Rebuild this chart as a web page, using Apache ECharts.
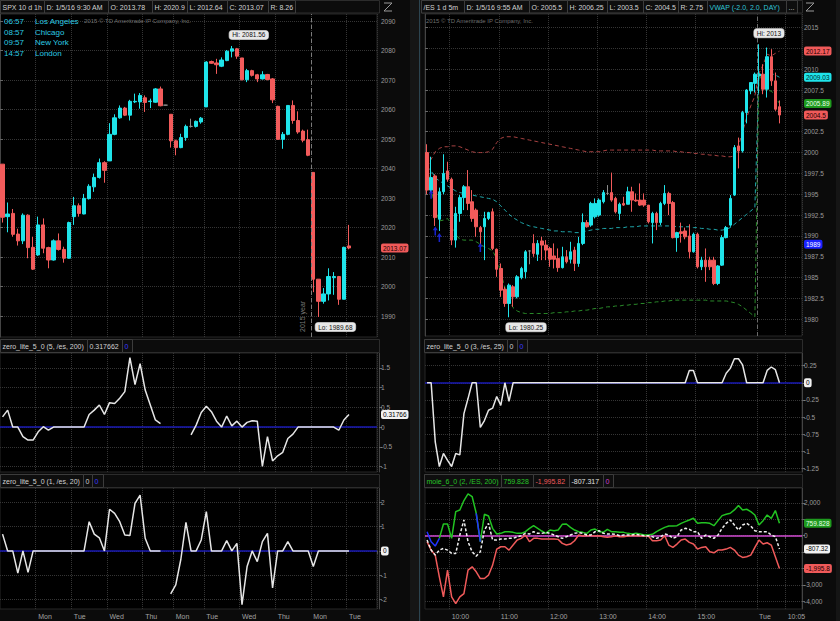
<!DOCTYPE html>
<html><head><meta charset="utf-8">
<script src="https://cdn.jsdelivr.net/npm/echarts@6.0.0/dist/echarts.min.js"></script>
<style>html,body{margin:0;padding:0;background:#0b0b0b;}#c{width:840px;height:621px;}</style>
</head><body><div id="c"></div>
<script>
// ---------------- DATA ----------------
// SPX 10 d 1h
const SPX_SLOTS = 74;
const spxDayStart = [7,14,21,28,34,40,47,54,61,68];
const spxDayName = ['Mon','Tue','Wed','Thu','Mon','Tue','Wed','Thu','Mon','Tue'];
const spxOpen  = [2041.5,2023.7,2024.8,2017.8,2015.5,2024.2,2013.3,2010.7,2020.9,2013.2,2009.0,2015.5,2012.6,2009.6,2023.7,2027.4,2024.6,2029.8,2033.8,2037.0,2042.0,2042.6,2051.6,2057.2,2060.5,2058.1,2062.6,2062.6,2064.0,2062.7,2062.5,2067.0,2061.5,2058.4,2049.4,2047.1,2050.5,2054.3,2054.3,2055.8,2060.9,2076.3,2075.8,2074.7,2076.6,2079.8,2080.6,2077.5,2070.1,2073.2,2071.8,2070.4,2071.9,2070.4,2061.1,2049.9,2051.6,2061.4,2056.3,2052.7,2049.8,2038.7,2002.5,1995.0,1997.5,2003.0,2003.4,1995.7,2013.78];
const spxHigh  = [2041.5,2028.5,2026.3,2019.6,2024.8,2024.5,2016.9,2023.7,2023.1,2013.5,2016.0,2018.0,2013.5,2022.0,2030.4,2028.2,2031.4,2034.7,2038.3,2043.4,2042.5,2055.4,2058.4,2061.4,2060.9,2063.3,2065.4,2065.6,2064.8,2063.7,2067.3,2067.8,2061.6,2058.4,2049.8,2051.8,2054.9,2056.9,2056.3,2057.5,2076.4,2076.6,2077.2,2077.7,2080.2,2081.56,2080.9,2077.5,2073.8,2073.5,2072.1,2073.0,2072.1,2070.7,2061.3,2052.4,2061.4,2063.1,2059.4,2053.2,2053.2,2038.7,2002.5,1999.5,2006.2,2004.9,2003.6,2013.5,2020.9];
const spxLow   = [2021.7,2018.4,2016.9,2013.9,2014.4,2009.6,2005.6,2010.4,2011.3,2006.2,2008.8,2012.2,2008.1,2009.5,2020.9,2023.7,2024.5,2029.5,2032.1,2036.6,2035.2,2042.6,2051.3,2056.9,2057.8,2056.3,2062.2,2060.3,2059.2,2060.5,2062.3,2061.1,2061.4,2047.1,2044.5,2046.9,2049.4,2053.9,2053.9,2055.2,2060.9,2075.5,2072.1,2074.4,2076.4,2077.7,2077.2,2069.9,2069.3,2071.2,2069.3,2070.2,2069.9,2062.2,2049.8,2046.7,2051.3,2055.2,2051.8,2048.9,2044.2,1998.1,1989.68,1994.2,1995.3,1997.2,1993.8,1995.7,2012.64];
const spxClose = [2023.5,2024.6,2017.7,2015.5,2024.2,2013.2,2005.9,2020.9,2013.0,2009.0,2015.5,2012.6,2009.6,2021.7,2027.4,2024.8,2029.9,2034.0,2037.0,2042.0,2039.4,2051.6,2057.2,2060.5,2058.1,2062.8,2062.8,2064.8,2062.4,2062.9,2067.0,2061.3,2061.5,2049.4,2047.1,2050.5,2054.3,2054.3,2056.0,2057.1,2076.1,2075.7,2075.2,2076.8,2079.8,2080.6,2078.1,2070.1,2073.2,2071.6,2070.4,2071.8,2070.2,2063.3,2049.9,2051.6,2061.4,2056.3,2052.4,2049.6,2044.5,2002.5,1995.0,1997.5,2003.4,2003.4,1995.7,2013.3,2013.07];
const spxTicks = [1990,2000,2010,2020,2030,2040,2050,2060,2070,2080,2090];
const spxYearLineAt = 61;

// zero_lite_5_0 (5, /es, 200)
const zl5 = [0.26,0.43,0,0,-0.24,-0.33,-0.33,-0.12,0.01,-0.08,0, 0,0,0,0,0,0, 0.32,0.43,0.56,0.32,0.62,0.6,0.73,0.9,1.76,1.08,1.61,0.94,0.56,0.18,0.09, null,null,null,null,null, -0.2,0.05,0.37,0.53,0.39,0.15,0,0.28,0.03,0.15,0,0.12,0.16,0.15,-1.0,-0.24,-0.86,-0.73,-0.64,-0.29,-0.18,0, 0,0,0,0,0,0,0, -0.08,0.18,0.31766];
const zl5Ticks = [-1,-0.5,0,0.5,1,1.5];
// zero_lite_5_0 (1, /es, 20)
const zl1 = [0.69,0,0,-0.91,0,-0.88, 0,0,0,0,0,0,0,0,0,0,0, 1.2,0.69,0.54,0,1.71,1.54,1.2,0.65,0.63,1.95,2.29,0.52,0,0,0, null, -1.76,-1.39,-0.34,1.17,0,0,0.45,1.61,0,0,0,0.42,0,0.31,-2.2,-0.64,0,-0.44,0.38,0.72,-1.52,0,0,0.38,0,0,0,0,-0.64, 0,0,0,0,0,0,0];
const zl1Ticks = [-2,-1,0,1,2];

// /ES 1 d 5m
const ES_SLOTS = 92;
const esTimeStart = [6,18,30,42,54,66,81,88];
const esTimeName = ['10:00','11:00','12:00','13:00','14:00','15:00','Tue','10:05'];
const esDayLineAt = 81;
const esOpen  = [2000.0,1995.5,1997.2,1992.0,1995.3,1997.8,1996.8,1989.5,1992.7,1994.6,1995.9,1994.1,1993.1,1991.0,1991.1,1992.1,1992.9,1988.4,1986.1,1983.6,1981.9,1983.9,1982.7,1985.0,1985.7,1988.2,1989.1,1987.8,1989.4,1988.9,1988.5,1987.6,1987.3,1986.2,1987.5,1987.2,1988.3,1986.7,1989.1,1991.6,1991.3,1992.3,1992.5,1994.1,1995.1,1995.2,1994.5,1992.7,1993.9,1993.8,1995.3,1994.3,1994.3,1994.3,1993.7,1991.6,1992.7,1991.6,1993.9,1995.1,1994.0,1989.8,1990.5,1990.6,1990.0,1988.1,1990.2,1986.3,1987.1,1987.1,1987.1,1984.3,1986.5,1989.8,1991.3,1994.9,2000.8,2000.2,2004.8,2007.4,2008.3,2009.2,2009.4,2007.6,2011.5,2008.6,2005.5];
const esHigh  = [2001.0,1999.5,1997.4,1995.8,1999.8,1998.9,1997.0,1993.5,1994.9,1996.1,1997.9,1995.5,1993.3,1991.2,1992.9,1992.9,1993.3,1988.5,1986.7,1983.9,1984.3,1984.1,1985.3,1986.3,1988.3,1988.3,1990.2,1989.5,1989.9,1989.5,1988.7,1989.1,1988.5,1988.7,1988.3,1989.3,1988.7,1989.9,1992.7,1991.9,1994.1,1994.5,1994.5,1995.5,1996.1,1997.6,1994.7,1994.0,1994.7,1995.9,1995.9,1995.1,1996.3,1995.1,1993.7,1992.9,1992.9,1994.1,1996.1,1995.3,1994.2,1990.5,1991.6,1991.0,1991.4,1990.4,1990.4,1987.5,1988.5,1987.5,1987.5,1986.5,1990.1,1991.2,1994.9,2000.9,2001.8,2005.0,2007.6,2008.4,2009.6,2013.0,2010.6,2012.6,2012.4,2009.6,2006.25];
const esLow   = [1995.0,1995.3,1991.2,1990.6,1995.0,1996.5,1988.9,1988.6,1991.7,1993.1,1993.1,1991.7,1989.9,1989.0,1987.1,1991.9,1988.3,1985.1,1982.7,1981.5,1980.25,1981.5,1982.5,1984.8,1984.9,1986.6,1987.5,1987.0,1987.1,1987.1,1986.3,1986.1,1985.7,1986.1,1986.7,1986.7,1985.8,1986.3,1988.9,1991.0,1991.1,1992.1,1992.3,1993.9,1994.9,1994.1,1992.7,1991.9,1993.6,1993.8,1992.9,1994.1,1993.6,1993.5,1991.5,1989.1,1990.7,1991.3,1993.7,1992.5,1989.7,1988.1,1989.2,1989.6,1987.3,1988.0,1986.1,1985.9,1984.5,1985.9,1984.1,1984.1,1986.4,1989.7,1991.1,1994.8,1998.1,2000.0,2003.5,2007.0,2007.2,2007.1,2007.0,2006.6,2008.0,2005.0,2003.5];
const esClose = [1995.5,1997.0,1992.2,1995.3,1997.5,1996.8,1989.5,1992.7,1994.6,1995.9,1993.9,1992.1,1991.1,1990.5,1992.1,1992.8,1988.5,1986.0,1983.5,1981.9,1984.1,1982.7,1985.1,1986.1,1988.1,1988.2,1987.9,1989.1,1988.9,1988.3,1987.2,1987.2,1986.2,1987.5,1986.9,1988.1,1986.7,1989.1,1991.6,1991.1,1993.9,1993.9,1994.3,1995.2,1995.1,1994.3,1992.9,1993.8,1993.7,1995.3,1994.3,1994.2,1993.7,1993.7,1991.7,1992.7,1991.6,1993.9,1995.1,1993.9,1989.8,1990.4,1990.3,1989.9,1988.1,1990.2,1986.3,1987.1,1986.3,1986.3,1984.3,1986.4,1989.8,1991.0,1994.5,2000.6,2000.2,2004.8,2007.5,2008.4,2009.4,2009.4,2007.6,2011.5,2008.6,2005.2,2004.5];
const vwapUpper = [1998.3,1999.2,2000.1,2000.5,2000.7,2000.7,2000.8,2000.8,2000.7,2000.5,2000.3,2000.1,2000.0,2000.0,2000.0,2000.1,2000.4,2001.2,2001.7,2001.9,2001.9,2001.9,2001.8,2001.7,2001.6,2001.5,2001.4,2001.3,2001.2,2001.1,2001.0,2000.9,2000.8,2000.7,2000.6,2000.5,2000.4,2000.3,2000.2,2000.1,2000.1,2000.1,2000.1,2000.2,2000.3,2000.3,2000.3,2000.3,2000.3,2000.3,2000.3,2000.3,2000.3,2000.3,2000.3,2000.3,2000.2,2000.2,2000.2,2000.2,2000.2,2000.1,2000.1,2000.0,2000.0,1999.9,1999.9,1999.8,1999.8,1999.7,1999.7,1999.6,1999.6,1999.5,1999.5,1999.6,2000.8,2002.5,2004.2,2005.6,2006.8,2009.5,2010.5,2011.8,2011.6,2011.9,2012.17];
const vwapMid   = [1998.3,1997.8,1997.0,1996.6,1996.3,1996.0,1995.7,1995.4,1995.2,1995.1,1995.0,1994.9,1994.8,1994.7,1994.6,1994.5,1994.4,1994.1,1993.6,1993.1,1992.6,1992.2,1991.9,1991.6,1991.4,1991.2,1991.1,1991.0,1990.9,1990.8,1990.7,1990.6,1990.6,1990.5,1990.5,1990.5,1990.4,1990.4,1990.5,1990.6,1990.7,1990.8,1990.8,1990.9,1990.9,1990.9,1991.0,1991.0,1991.0,1991.1,1991.1,1991.1,1991.2,1991.2,1991.2,1991.2,1991.2,1991.2,1991.2,1991.2,1991.2,1991.1,1991.1,1991.1,1991.1,1991.0,1991.0,1990.9,1990.9,1990.8,1990.8,1990.7,1990.7,1990.8,1991.0,1991.4,1991.8,1992.2,1992.6,1993.0,1993.4,2009.5,2009.2,2009.6,2009.5,2009.3,2009.03];
const vwapLower = [1998.3,1995.8,1993.2,1991.8,1991.9,1992.1,1991.3,1990.2,1989.6,1989.5,1989.5,1989.5,1989.3,1989.0,1988.7,1988.5,1988.2,1987.3,1985.6,1983.8,1982.3,1981.4,1981.0,1980.8,1980.7,1980.7,1980.7,1980.7,1980.7,1980.7,1980.7,1980.8,1980.8,1980.8,1980.9,1980.9,1981.0,1981.0,1981.1,1981.1,1981.2,1981.3,1981.3,1981.4,1981.5,1981.5,1981.6,1981.6,1981.7,1981.7,1981.8,1981.8,1981.9,1981.9,1982.0,1982.0,1982.1,1982.1,1982.2,1982.2,1982.3,1982.3,1982.3,1982.3,1982.3,1982.3,1982.3,1982.3,1982.3,1982.2,1982.2,1982.2,1982.2,1982.2,1982.1,1982.0,1981.8,1981.5,1981.1,1980.7,1980.3,2009.5,2007.9,2007.4,2007.4,2006.7,2005.89];
const esArrowIdx = [1,2,3,13];
const esArrowPrice = [1995.0,1990.6,1989.8,1988.6];
const esTicks = [1980,1982.5,1985,1987.5,1990,1992.5,1995,1997.5,2000,2002.5,2005,2007.5,2010,2012.5,2015];
const esTickLabels = [1980,1982.5,1985,1987.5,1990,1992.5,1995,1997.5,2000,2002.5,2007.5,2010,2015];

// zero_lite_5_0 (3, /es, 25)
const zl3 = [0,0,-0.86,-1.22,-1.03,-1.13,-1.22,-1.03,-1.05,-0.45,-0.23,0,0,-0.65,-0.55,-0.4,-0.37,-0.2,-0.33,0,-0.27,0,
 0,0,0,0,0,0,0,0,0,0,0,0,0,0,0,0,0,0,0,0,0,0,0,0,0,0,0,0,0,0,0,0,0,0,0,0,0,0,0,0,0,0,
 0.18,0.18, 0,0,0,0,0,0,0, 0.14,0.21,0.35,0.35,0.26, 0,0,0,0,0, 0.18,0.23,0.19,0];
const zl3Ticks = [-1.25,-1,-0.75,-0.5,-0.25,0,0.25];

// mole_6_0 (2, /ES, 200)
const moleGreen = [null,null,null,-163,714,714,-163,1469,1571,2143,2551,2388,1367,-367,1306,1204,449,102,143,245,245,204,143,143,245,449,612,449,286,143,347,306,347,694,714,510,347,245,204,143,347,408,245,204,388,245,245,204,204,143,102,143,102,41,41,82,245,388,510,592,592,612,755,857,959,1061,755,796,796,755,612,918,1225,1306,1367,1571,1837,1571,1612,1469,1265,653,918,1265,1061,1531,759.828];
const moleBlue  = [245,-367,-633,-163,null,null,null,null,null,null,null,null,1367,-367];
const moleRed   = [-367,-878,-1184,-2510,-3735,-2102,-3735,-4143,-3735,-3531,-2102,-1898,-2204,-2612,-2612,-2408,-1796,-816,-673,-673,-878,-571,-265,-163,41,-367,-163,-163,-204,-204,-204,-204,-224,-469,-571,-510,-306,41,-20,0,0,-20,0,-61,-102,-61,0,-61,-61,-20,0,0,-20,0,-20,-306,-306,-265,0,-571,-714,-510,-265,-204,-408,-510,-816,-714,-673,-980,-1041,-878,-878,-816,-714,-878,-1184,-1327,-1286,-1184,-714,-265,-510,-429,-571,-1286,-1995.82];
const moleWhite = [-265,-878,-1184,-878,-776,-878,-1082,-1082,41,959,-367,-980,-1245,-980,347,755,-265,-265,-204,-204,-163,-163,-61,0,143,102,245,143,143,204,143,41,-61,-163,-61,41,143,184,143,41,41,245,306,143,102,102,82,0,41,41,41,82,41,0,0,-61,-163,-61,102,41,-163,-61,347,449,388,245,245,-163,41,-61,-163,41,449,755,959,653,347,653,755,592,306,245,245,245,41,-61,-807.317];
const moleTicks = [-4000,-3000,-2000,-1000,0,1000,2000];
const moleTickLabels = [-4000,-3000,0,2000];

// ---------------- CHART ----------------
const FONT = '"Liberation Sans", Arial, sans-serif';
const UP = '#1fe4ea', DOWN = '#f25b5b', DOJI = '#8c8c8c';
const GRID_LINE = '#353535';

function candles(o, h, l, c) {
  return o.map((v, i) => {
    const it = { value: [v, c[i], l[i], h[i]] };
    if (v === c[i]) it.itemStyle = { color: DOJI, color0: DOJI, borderColor: DOJI, borderColor0: DOJI, borderColorDoji: DOJI };
    return it;
  });
}
function cats(n) { return Array.from({ length: n }, (_, i) => String(i)); }
function catAxis(grid, n, starts, names, labels) {
  const f = (i) => starts.includes(i);
  return {
    type: 'category', gridIndex: grid, data: cats(n), boundaryGap: true,
    axisLine: { show: false },
    axisTick: { show: labels, interval: f, length: 3, lineStyle: { color: '#555' } },
    axisLabel: { show: labels, interval: f, align: 'left', color: '#a2a2a2', fontSize: 7, margin: 4, fontFamily: FONT,
      formatter: (v) => { const k = starts.indexOf(Number(v)); return k >= 0 ? names[k] : ''; } },
    splitLine: { show: true, interval: f, lineStyle: { color: GRID_LINE, type: 'dotted', width: 1 } }
  };
}
function valAxis(grid, min, max, ticks, labels, fmt, offset) {
  return {
    type: 'value', gridIndex: grid, position: 'right', min, max, offset: offset || 0,
    axisLine: { show: true, lineStyle: { color: '#444' } },
    axisTick: { show: true, customValues: ticks, length: 3, lineStyle: { color: '#666' } },
    axisLabel: { customValues: labels, formatter: fmt, color: '#9c9c9c', fontSize: 6.5, margin: 2, fontFamily: FONT },
    splitLine: { show: true, lineStyle: { color: GRID_LINE, type: 'dotted', width: 1 } }
  };
}
function tagAxis(grid, min, max, tags, offset) {
  const rich = {};
  tags.forEach((t, i) => { rich['t' + i] = { backgroundColor: t.bg, color: t.fg, padding: [1, 2, 1, 2], borderRadius: 2, fontSize: 6.5, fontFamily: FONT }; });
  return {
    type: 'value', gridIndex: grid, position: 'right', min, max, offset: offset || 0,
    axisLine: { show: false }, axisTick: { show: false }, splitLine: { show: false },
    axisLabel: { customValues: tags.map(t => t.v), margin: 2, rich,
      formatter: (v) => { const i = tags.findIndex(t => Math.abs(t.v - v) < 1e-6); return i < 0 ? '' : '{t' + i + '|' + tags[i].text + '}'; } }
  };
}
const str = (v) => String(v);
const comma = (v) => v.toLocaleString('en-US');

const RED_TAG = { bg: '#f05a5a', fg: '#1a0000' };
const WHITE_TAG = { bg: '#f2f2f2', fg: '#000' };
const last = (a) => a[a.length - 1];

const spxHiIdx = spxHigh.indexOf(Math.max(...spxHigh));
const spxLoIdx = spxLow.indexOf(Math.min(...spxLow));
const esHiIdx = esHigh.indexOf(Math.max(...esHigh));
const esLoIdx = esLow.indexOf(Math.min(...esLow));

const bubble = { show: true, color: '#111', backgroundColor: '#e8e8e8', borderColor: '#8a8a8a', borderWidth: 0.6, borderRadius: 3, padding: [1, 3, 1, 3], fontSize: 6.5, fontFamily: FONT };

const zeroLine = (color) => ({ silent: true, z: 1, symbol: ['none', 'none'], label: { show: false }, data: [{ yAxis: 0 }], lineStyle: { color, width: 1.5, type: 'solid' } });

const lineS = (xi, yi, data, color, extra) => Object.assign({
  type: 'line', xAxisIndex: xi, yAxisIndex: yi, data, symbol: 'none', z: 3,
  lineStyle: { color, width: 1.5 }, connectNulls: false, silent: true
}, extra || {});

const option = {
  animation: false,
  backgroundColor: 'transparent',
  textStyle: { fontFamily: FONT },
  grid: [
    { left: 0, top: 14, width: 377, height: 323 },
    { left: 0, top: 353, width: 377, height: 119 },
    { left: 0, top: 488, width: 377, height: 121 },
    { left: 425, top: 14, width: 377, height: 322 },
    { left: 425, top: 353, width: 377, height: 119 },
    { left: 425, top: 488, width: 377, height: 121 }
  ].map(g => Object.assign({ show: true, backgroundColor: '#000', borderColor: '#262626', borderWidth: 1 }, g)),
  xAxis: [
    catAxis(0, SPX_SLOTS, spxDayStart, spxDayName, false),
    catAxis(1, SPX_SLOTS, spxDayStart, spxDayName, false),
    catAxis(2, SPX_SLOTS, spxDayStart, spxDayName, true),
    catAxis(3, ES_SLOTS, esTimeStart, esTimeName, false),
    catAxis(4, ES_SLOTS, esTimeStart, esTimeName, false),
    catAxis(5, ES_SLOTS, esTimeStart, esTimeName, true),
    { type: 'value', gridIndex: 0, min: 0, max: SPX_SLOTS, show: false },
    { type: 'value', gridIndex: 3, min: 0, max: ES_SLOTS, show: false }
  ],
  yAxis: [
    valAxis(0, 1982.9, 2092.4, spxTicks, spxTicks, str, 2),
    valAxis(1, -1.14, 1.88, zl5Ticks, zl5Ticks, str, 2),
    valAxis(2, -2.38, 2.58, zl1Ticks, zl1Ticks, str, 2),
    valAxis(3, 1978.0, 2016.62, esTicks, esTickLabels, str, 0),
    valAxis(4, -1.30, 0.434, zl3Ticks, zl3Ticks, str, 0),
    valAxis(5, -4470, 2909, moleTicks, moleTickLabels, comma, 0),
    tagAxis(0, 1982.9, 2092.4, [Object.assign({ v: last(spxClose), text: last(spxClose).toFixed(2) }, RED_TAG)], 2),
    tagAxis(1, -1.14, 1.88, [Object.assign({ v: last(zl5), text: '0.31766' }, WHITE_TAG)], 2),
    tagAxis(2, -2.38, 2.58, [Object.assign({ v: last(zl1), text: String(last(zl1)) }, WHITE_TAG)], 2),
    tagAxis(3, 1978.0, 2016.62, [
      Object.assign({ v: last(vwapUpper), text: '2012.17' }, RED_TAG),
      { v: last(vwapMid), text: '2009.03', bg: '#1fe4ea', fg: '#002a2a' },
      { v: last(vwapLower), text: '2005.89', bg: '#1e9a1e', fg: '#e8ffe8' },
      Object.assign({ v: last(esClose), text: '2004.5' }, RED_TAG),
      { v: last(esArrowPrice) + 0.4, text: '1989', bg: '#1a22ff', fg: '#ffffff' }
    ], 0),
    tagAxis(4, -1.30, 0.434, [Object.assign({ v: last(zl3), text: String(last(zl3)) }, WHITE_TAG)], 0),
    tagAxis(5, -4470, 2909, [
      { v: last(moleGreen), text: '759.828', bg: '#1e9a1e', fg: '#e8ffe8' },
      Object.assign({ v: last(moleWhite), text: '-807.32' }, WHITE_TAG),
      Object.assign({ v: last(moleRed), text: '-1,995.8' }, RED_TAG)
    ], 0)
  ],
  series: [
    { type: 'candlestick', xAxisIndex: 0, yAxisIndex: 0, z: 3, barWidth: 3.8, silent: true,
      data: candles(spxOpen, spxHigh, spxLow, spxClose),
      itemStyle: { color: UP, color0: DOWN, borderColor: UP, borderColor0: DOWN, borderColorDoji: DOJI, borderWidth: 1 },
      markPoint: { symbol: 'circle', symbolSize: 0, silent: true, label: bubble,
        data: [
          { coord: [spxHiIdx, spxHigh[spxHiIdx]], label: { formatter: 'Hi: ' + spxHigh[spxHiIdx], offset: [17, -11] } },
          { coord: [spxLoIdx, spxLow[spxLoIdx]], label: { formatter: 'Lo: ' + spxLow[spxLoIdx], offset: [17, 10] } }
        ] } },
    { type: 'scatter', xAxisIndex: 6, yAxisIndex: 0, data: [], silent: true,
      markLine: { silent: true, symbol: ['none', 'none'], data: [{ xAxis: spxYearLineAt }],
        lineStyle: { color: '#7a7a7a', type: [4, 3], width: 1 },
        label: { show: true, formatter: '2015 year', position: 'insideStartTop', color: '#7a7a7a', fontSize: 7, fontFamily: FONT } } },
    lineS(1, 1, zl5, '#e6e6e6', { markLine: zeroLine('#1a1ab4') }),
    lineS(2, 2, zl1, '#e6e6e6', { markLine: zeroLine('#1a1ab4') }),
    lineS(3, 3, vwapUpper, '#a84242', { z: 2, lineStyle: { color: '#a84242', width: 1, type: [4, 3] } }),
    lineS(3, 3, vwapMid, '#1fa6aa', { z: 2, lineStyle: { color: '#1fa6aa', width: 1, type: [4, 3] } }),
    lineS(3, 3, vwapLower, '#2a8a2a', { z: 2, lineStyle: { color: '#2a8a2a', width: 1, type: [4, 3] } }),
    { type: 'candlestick', xAxisIndex: 3, yAxisIndex: 3, z: 3, barWidth: 3, silent: true,
      data: candles(esOpen, esHigh, esLow, esClose),
      itemStyle: { color: UP, color0: DOWN, borderColor: UP, borderColor0: DOWN, borderColorDoji: DOJI, borderWidth: 1 },
      markPoint: { symbol: 'circle', symbolSize: 0, silent: true, label: bubble,
        data: [
          { coord: [esHiIdx, esHigh[esHiIdx]], label: { formatter: 'Hi: ' + esHigh[esHiIdx], offset: [10, -11] } },
          { coord: [esLoIdx, esLow[esLoIdx]], label: { formatter: 'Lo: ' + esLow[esLoIdx], offset: [17, 10] } }
        ] } },
    { type: 'scatter', xAxisIndex: 7, yAxisIndex: 3, data: [], silent: true,
      markLine: { silent: true, symbol: ['none', 'none'], data: [{ xAxis: esDayLineAt }],
        lineStyle: { color: '#6a6a6a', type: [4, 3], width: 1 }, label: { show: false } } },
    { type: 'scatter', xAxisIndex: 3, yAxisIndex: 3, z: 4, silent: true,
      symbol: 'path://M4,0 L8,5 L5.2,5 L5.2,12 L2.8,12 L2.8,5 L0,5 Z', symbolSize: [5, 9],
      itemStyle: { color: '#1e2cff' },
      data: esArrowIdx.map((k, i) => [k, esArrowPrice[i]]) },
    lineS(4, 4, zl3, '#e6e6e6', { markLine: zeroLine('#1a1ab4') }),
    lineS(5, 5, moleRed, '#f05a5a', { markLine: zeroLine('#d24ad2') }),
    lineS(5, 5, moleGreen, '#22c322'),
    lineS(5, 5, moleWhite, '#eeeeee', { lineStyle: { color: '#eeeeee', width: 1.5, type: [3, 2] } }),
    lineS(5, 5, moleBlue, '#2233ff', { z: 4 })
  ],
  graphic: []
};

// ---------- header bars / decorations ----------
const G = option.graphic;
function bar(x, y, w, h) {
  G.push({ type: 'rect', z: 100, shape: { x: x + 0.5, y: y + 0.5, width: w, height: h }, style: { fill: '#0c0c0c', stroke: '#2c2c2c', lineWidth: 1 } });
}
function boxes(y, h, list) {
  list.forEach(b => {
    G.push({ type: 'rect', z: 101, shape: { x: b[1] + 0.5, y: y + 0.5, width: b[2], height: h }, style: { fill: '#0e0e0e', stroke: '#3c3c3c', lineWidth: 1 } });
    G.push({ type: 'text', z: 102, x: b[1] + 2.5, y: y + h / 2 + 1, style: { text: b[0], fill: b[3] || '#d2d2d2', font: '7px ' + FONT, textVerticalAlign: 'middle', verticalAlign: 'middle' } });
  });
}
// separator strips
G.push({ type: 'rect', z: 99, shape: { x: 410, y: 0, width: 11, height: 621 }, style: { fill: '#151515' } });
G.push({ type: 'line', z: 99, shape: { x1: 419.5, y1: 0, x2: 419.5, y2: 621 }, style: { stroke: '#2c4450', lineWidth: 1 } });
G.push({ type: 'rect', z: 99, shape: { x: 836, y: 0, width: 4, height: 621 }, style: { fill: '#151515' } });

bar(0, 0, 379, 12.5);
boxes(0, 12.5, [['SPX 10 d 1h', 0, 44], ['D: 1/5/16 9:30 AM', 44, 64], ['O: 2013.78', 108, 44], ['H: 2020.9', 152, 35], ['L: 2012.64', 187, 40], ['C: 2013.07', 227, 41], ['R: 8.26', 268, 27]]);
bar(421, 0, 381, 12.5);
boxes(0, 12.5, [['/ES 1 d 5m', 421, 43], ['D: 1/5/16 9:55 AM', 464, 65], ['O: 2005.5', 529, 38], ['H: 2006.25', 567, 40], ['L: 2003.5', 607, 36], ['C: 2004.5', 643, 35], ['R: 2.75', 678, 29], ['VWAP (-2.0, 2.0, DAY)', 707, 79, '#2ec4d6'], ['...', 786, 11]]);

bar(0, 339, 379, 13);
boxes(339, 13, [['zero_lite_5_0 (5, /es, 200)', 0, 87], ['0.317662', 87, 35], ['0', 122, 10, '#3a3aff']]);
bar(424, 339, 378, 13);
boxes(339, 13, [['zero_lite_5_0 (3, /es, 25)', 424, 83], ['0', 507, 10], ['0', 517, 10, '#3a3aff']]);
bar(0, 474, 379, 13);
boxes(474, 13, [['zero_lite_5_0 (1, /es, 20)', 0, 83], ['0', 83, 9], ['0', 92, 11, '#3a3aff']]);
bar(424, 474, 378, 13);
boxes(474, 13, [['mole_6_0 (2, /ES, 200)', 424, 77, '#27c427'], ['759.828', 501, 32, '#27c427'], ['-1,995.82', 533, 36, '#f05a5a'], ['-807.317', 569, 34, '#e0e0e0'], ['0', 603, 10, '#d040d0']]);

// copyright + clocks
G.push({ type: 'text', z: 90, x: 426, y: 21, style: { text: '2015 © TD Ameritrade IP Company, Inc.', fill: '#6e6e6e', font: '6px ' + FONT, textVerticalAlign: 'middle', verticalAlign: 'middle' } });
G.push({ type: 'text', z: 90, x: 84, y: 21, style: { text: '2015 © TD Ameritrade IP Company, Inc.', fill: '#6e6e6e', font: '6px ' + FONT, textVerticalAlign: 'middle', verticalAlign: 'middle' } });
[['06:57', 'Los Angeles', 21.5], ['08:57', 'Chicago', 32], ['09:57', 'New York', 42.5], ['14:57', 'London', 53]].forEach(c => {
  G.push({ type: 'text', z: 92, x: 4, y: c[2], style: { text: c[0], fill: '#2ccbe4', font: '8px ' + FONT, textVerticalAlign: 'middle', verticalAlign: 'middle' } });
  G.push({ type: 'text', z: 92, x: 35, y: c[2], style: { text: c[1], fill: '#2ccbe4', font: '8px ' + FONT, textVerticalAlign: 'middle', verticalAlign: 'middle' } });
});
// expand icons
[384, 806].forEach(x0 => {
  G.push({ type: 'polyline', z: 100, shape: { points: [[x0, 3], [x0 + 8, 3], [x0, 11], [x0 + 8, 11]] }, style: { stroke: '#9a9a9a', fill: 'none', lineWidth: 1 } });
});

const chart = echarts.init(document.getElementById('c'), null, { renderer: 'svg', width: 840, height: 621 });
chart.setOption(option);
</script></body></html>
